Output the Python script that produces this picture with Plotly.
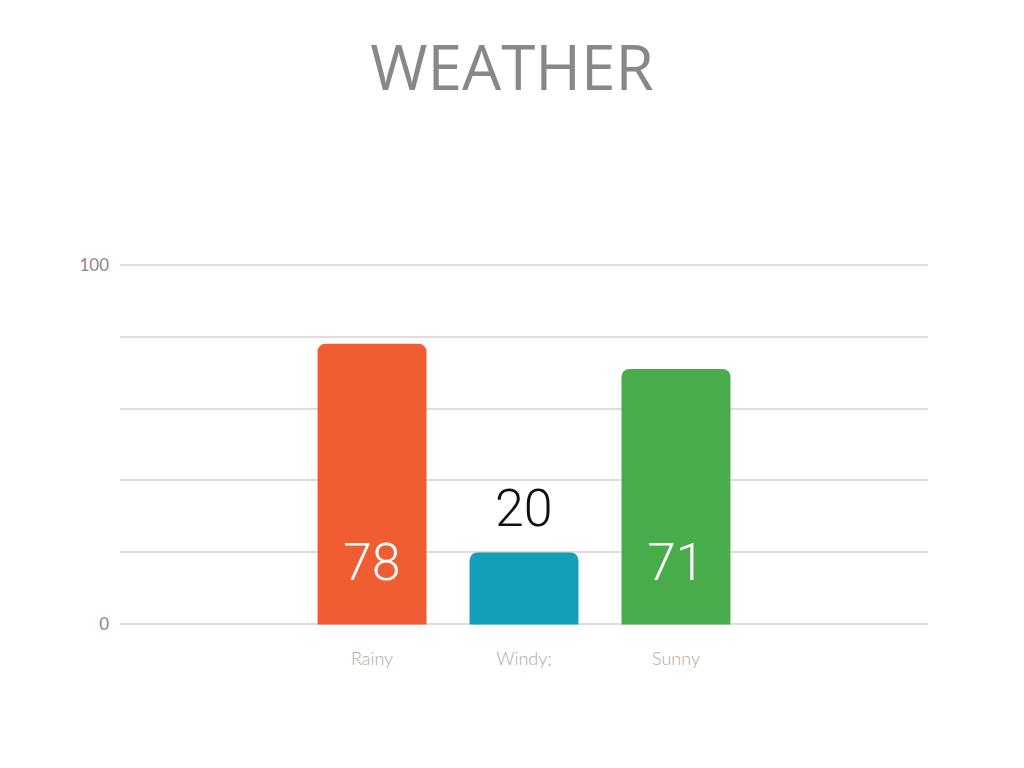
import plotly.graph_objects as go

categories = ["Rainy", "Windy;", "Sunny"]
values = [78, 20, 71]
colors = ["#F15D33", "#149FBA", "#48AC4B"]
label_colors = ["#FFFFFF", "#111111", "#FFFFFF"]
label_inside = [True, False, True]
y_tickvals = [0, 20, 40, 60, 80, 100]
y_ticktext = ["0", "", "", "", "", "100"]

NUM_FONT = "Roboto"

fig = go.Figure()
fig.add_trace(go.Bar(
    x=categories, y=values, marker=dict(color=colors, cornerradius=8, line=dict(width=0)),
    width=0.717, hoverinfo="skip",
))

for c, v, col, inside in zip(categories, values, label_colors, label_inside):
    if inside:
        fig.add_annotation(x=c, y=0, text=str(v), showarrow=False, yanchor="middle",
                           yshift=62, font=dict(family=NUM_FONT, size=52, color=col, weight=300))
    else:
        fig.add_annotation(x=c, y=v, text=str(v), showarrow=False, yanchor="middle",
                           yshift=44, font=dict(family=NUM_FONT, size=52, color=col, weight=300))

fig.update_layout(
    width=1008, height=752,
    paper_bgcolor="white", plot_bgcolor="white",
    margin=dict(l=112, r=88, t=253.4, b=132.4),
    showlegend=False,
    title=dict(text="WEATHER", x=0.5, xanchor="center", y=0.920, yanchor="middle",
               font=dict(family="Open Sans", size=62, color="#888888")),
    xaxis=dict(range=[-1.658, 3.658], showgrid=False, zeroline=False, showline=False,
               ticks="", tickfont=dict(family="Lato", size=18, color="#AAAAAA", weight=300),
               ticklabelstandoff=18),
    yaxis=dict(range=[-1, 101], tickvals=y_tickvals, ticktext=y_ticktext,
               showgrid=True, gridcolor="#DDDDDD", gridwidth=2, zeroline=False,
               showline=False, ticks="", tickfont=dict(family="Lato", size=17, color="#888888"),
               ticklabelstandoff=10),
)

fig.write_html("out.html")
